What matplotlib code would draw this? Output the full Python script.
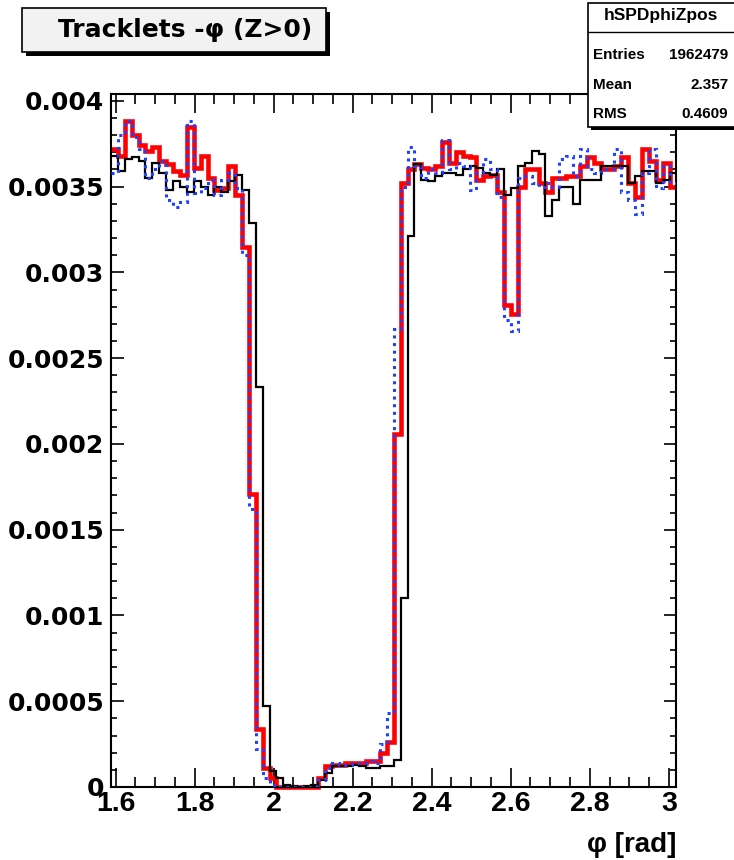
import numpy as np
import matplotlib.pyplot as plt
from matplotlib.patches import Rectangle
from matplotlib.ticker import MultipleLocator, FuncFormatter

plt.rcParams['font.family'] = ['DejaVu Sans']
plt.rcParams['font.weight'] = 'bold'

# 1 degree bins, displayed range 91..173 deg
phi_lo_deg = 91
phi_hi_deg = 173
edges = np.deg2rad(np.arange(phi_lo_deg, phi_hi_deg + 1))

# normalised tracklet counts per bin (x 1e-3)
h_black = np.array([
    3.68, 3.59, 3.66, 3.67, 3.65, 3.55, 3.64, 3.58, 3.48, 3.53,
    3.50, 3.47, 3.53, 3.50, 3.45, 3.50, 3.47, 3.53, 3.57, 3.48,
    3.29, 2.33, 0.47, 0.093, 0.05, 0.01, 0.003, 0.002, 0.003, 0.01,
    0.04, 0.08, 0.12, 0.125, 0.125, 0.13, 0.12, 0.11, 0.11, 0.12,
    0.125, 0.16, 1.10, 3.21, 3.63, 3.54, 3.53, 3.56, 3.58, 3.58,
    3.57, 3.60, 3.62, 3.61, 3.58, 3.57, 3.60, 3.45, 3.49, 3.62,
    3.64, 3.71, 3.69, 3.33, 3.42, 3.50, 3.50, 3.40, 3.54, 3.54,
    3.54, 3.62, 3.62, 3.62, 3.62, 3.52, 3.56, 3.59, 3.59, 3.52,
    3.54, 3.58]) * 1e-3

h_red = np.array([
    3.72, 3.68, 3.88, 3.80, 3.74, 3.71, 3.73, 3.65, 3.63, 3.59,
    3.57, 3.85, 3.61, 3.68, 3.55, 3.48, 3.49, 3.62, 3.45, 3.15,
    1.71, 0.34, 0.11, 0.05, 0.0, 0.0, 0.0, 0.0, 0.0, 0.0,
    0.05, 0.12, 0.13, 0.13, 0.14, 0.14, 0.14, 0.15, 0.15, 0.20,
    0.26, 2.06, 3.52, 3.60, 3.63, 3.61, 3.60, 3.62, 3.76, 3.64,
    3.70, 3.68, 3.67, 3.54, 3.56, 3.57, 3.47, 2.81, 2.76, 3.50,
    3.60, 3.60, 3.52, 3.47, 3.55, 3.55, 3.56, 3.56, 3.62, 3.67,
    3.64, 3.60, 3.60, 3.62, 3.67, 3.52, 3.44, 3.72, 3.65, 3.54,
    3.64, 3.50]) * 1e-3

h_blue = np.array([
    3.58, 3.80, 3.88, 3.79, 3.72, 3.55, 3.60, 3.65, 3.42, 3.38,
    3.41, 3.88, 3.46, 3.49, 3.54, 3.45, 3.54, 3.58, 3.49, 3.10,
    1.62, 0.22, 0.05, 0.01, 0.0, 0.0, 0.0, 0.0, 0.0, 0.005,
    0.04, 0.11, 0.14, 0.13, 0.13, 0.14, 0.14, 0.15, 0.14, 0.25,
    0.43, 2.67, 3.50, 3.73, 3.62, 3.55, 3.60, 3.58, 3.77, 3.60,
    3.64, 3.62, 3.48, 3.58, 3.66, 3.60, 3.44, 2.72, 2.66, 3.55,
    3.56, 3.52, 3.50, 3.52, 3.50, 3.66, 3.68, 3.56, 3.72, 3.60,
    3.58, 3.60, 3.60, 3.72, 3.47, 3.42, 3.34, 3.58, 3.72, 3.49,
    3.62, 3.52]) * 1e-3

hist_name = 'hSPDphiZpos'
stat_names = ['Entries', 'Mean', 'RMS']
stat_values = ['1962479', '2.357', '0.4609']

fig = plt.figure(figsize=(7.34, 8.6), dpi=100)
ax = fig.add_axes([0.1512, 0.0849, 0.7704, 0.8058])

ax.stairs(h_red, edges, baseline=None, color='red', lw=3.3, zorder=2, clip_on=False)
ax.stairs(h_black, edges, baseline=None, color='black', lw=1.6, zorder=3)
ax.stairs(h_blue, edges, baseline=None, color='#2040ff', lw=2.2, ls=(0, (1, 1.5)), zorder=4)

ax.set_xlim(edges[0], edges[-1])
ax.set_ylim(0, 0.00404)

ax.xaxis.set_major_locator(MultipleLocator(0.2))
ax.xaxis.set_minor_locator(MultipleLocator(0.05))
ax.yaxis.set_major_locator(MultipleLocator(0.0005))
ax.yaxis.set_minor_locator(MultipleLocator(0.0001))
fmt = FuncFormatter(lambda v, p: '%g' % round(v, 6))
ax.xaxis.set_major_formatter(fmt)
ax.yaxis.set_major_formatter(fmt)

ax.tick_params(which='both', direction='in', top=True, right=True, width=1.2)
ax.tick_params(axis='x', which='major', length=14, labelsize=20.5, pad=3)
ax.tick_params(axis='x', which='minor', length=7)
ax.tick_params(axis='y', which='major', length=9, labelsize=18, pad=5)
ax.tick_params(axis='y', which='minor', length=4.5)
for lbl in ax.get_xticklabels():
    lbl.set_fontfamily(['Liberation Sans', 'DejaVu Sans'])
for sp in ax.spines.values():
    sp.set_linewidth(1.5)

fig.text(0.922, 0.018, 'φ [rad]', ha='right', va='center', fontsize=20,
         family=['Liberation Sans', 'DejaVu Sans'])

# title pave with shadow
tx0, ty0, tw, th = 0.030, 0.9395, 0.414, 0.0512
fig.patches.append(Rectangle((tx0 + 0.005, ty0 - 0.0045), tw, th, transform=fig.transFigure,
                             facecolor='black', edgecolor='none', zorder=1))
fig.patches.append(Rectangle((tx0, ty0), tw, th, transform=fig.transFigure,
                             facecolor='#f2f2f2', edgecolor='black', lw=1.2, zorder=2))
fig.text(tx0 + tw / 2 + 0.015, ty0 + th / 2, 'Tracklets -φ (Z>0)', ha='center', va='center',
         fontsize=18, zorder=3)

# stats box
sx0, sy0, sw, sh = 0.801, 0.8523, 0.21, 0.1442
fig.patches.append(Rectangle((sx0 + 0.004, sy0 - 0.004), sw, sh, transform=fig.transFigure,
                             facecolor='black', edgecolor='none', zorder=4))
fig.patches.append(Rectangle((sx0, sy0), sw, sh, transform=fig.transFigure,
                             facecolor='white', edgecolor='black', lw=1.2, zorder=5))
fig.lines.append(plt.Line2D([sx0, 1.0], [0.9628, 0.9628], transform=fig.transFigure,
                            color='black', lw=1.0, zorder=6))
stat_font = ['Liberation Sans Narrow', 'Liberation Sans']
fig.text(0.901, 0.9815, hist_name, ha='center', va='center', fontsize=12.5,
         family=stat_font, zorder=7)
row_y = [0.936, 0.901, 0.868]
for name, val, yy in zip(stat_names, stat_values, row_y):
    fig.text(0.808, yy, name, ha='left', va='center', fontsize=11, family=stat_font, zorder=7)
    fig.text(0.992, yy, val, ha='right', va='center', fontsize=11, family=stat_font, zorder=7)

fig.savefig('out.png', dpi=100)
